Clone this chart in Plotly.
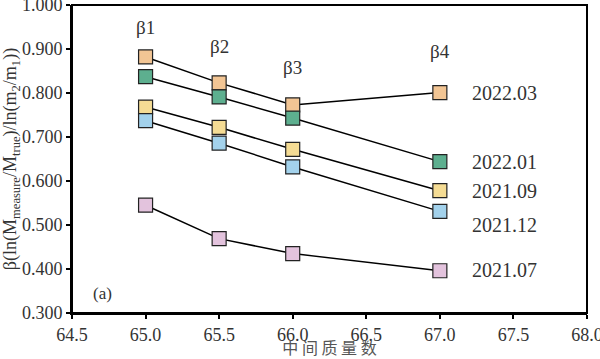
import plotly.graph_objects as go

mass = [65.0, 65.5, 66.0, 67.0]
series_names = ["2022.03", "2022.01", "2021.09", "2021.12", "2021.07"]
v_2022_03 = [0.882, 0.823, 0.773, 0.801]
v_2022_01 = [0.837, 0.791, 0.743, 0.644]
v_2021_09 = [0.768, 0.722, 0.672, 0.578]
v_2021_12 = [0.737, 0.686, 0.632, 0.531]
v_2021_07 = [0.545, 0.469, 0.435, 0.396]
colors = ["#F2C594", "#5DAF8F", "#F5DC94", "#A3D2EC", "#E3C3DD"]
label_y = [0.801, 0.643, 0.577, 0.500, 0.397]
beta_labels = ["β1", "β2", "β3", "β4"]
beta_y = [0.950, 0.905, 0.857, 0.894]
xticks = [64.5, 65.0, 65.5, 66.0, 66.5, 67.0, 67.5, 68.0]
yticks = [0.3, 0.4, 0.5, 0.6, 0.7, 0.8, 0.9, 1.0]

serif = "Times New Roman, Liberation Serif, serif"
fig = go.Figure()
for name, vals, c in zip(series_names, [v_2022_03, v_2022_01, v_2021_09, v_2021_12, v_2021_07], colors):
    fig.add_trace(go.Scatter(x=mass, y=vals, mode="lines+markers", name=name,
                             line=dict(color="black", width=1.5),
                             marker=dict(symbol="square", size=14, color=c,
                                         line=dict(color="#222", width=1.2))))
for name, y in zip(series_names, label_y):
    fig.add_annotation(x=67.44, y=y, text=name, showarrow=False,
                       font=dict(family=serif, size=20, color="#333"))
for b, x, y in zip(beta_labels, mass, beta_y):
    fig.add_annotation(x=x, y=y, text=b, showarrow=False,
                       font=dict(family=serif, size=19, color="#333"))
fig.add_annotation(x=64.71, y=0.345, text="(a)", showarrow=False,
                   font=dict(family=serif, size=17, color="#333"))
# plot frame
fig.add_shape(type="rect", xref="paper", yref="paper", x0=0, y0=0, x1=1, y1=1,
              line=dict(color="black", width=2), layer="above")

fig.update_layout(
    width=600, height=359, showlegend=False,
    margin=dict(l=72, r=13, t=5, b=46),
    plot_bgcolor="white", paper_bgcolor="white",
    font=dict(family=serif, size=16, color="#333"),
)
fig.update_xaxes(range=[64.5, 68.0], tickvals=xticks, ticktext=[f"{v:.1f}" for v in xticks],
                 automargin=False, ticklabeloverflow="allow",
                 showgrid=False, zeroline=False, showline=True, linecolor="black", linewidth=2,
                 ticks="outside", ticklen=4, tickwidth=1.5, tickcolor="black",
                 tickfont=dict(family=serif, size=18),
                 title=dict(text="中 间 质 量 数", standoff=3,
                            font=dict(family="Noto Sans CJK SC", size=16, color="#555")))
fig.update_yaxes(range=[0.3, 1.0], tickvals=yticks, ticktext=[f"{v:.3f}" for v in yticks],
                 automargin=False, ticklabeloverflow="allow",
                 showgrid=False, zeroline=False, showline=True, linecolor="black", linewidth=2,
                 ticks="outside", ticklen=4, tickwidth=1.5, tickcolor="black",
                 tickfont=dict(family=serif, size=18),
                 title=dict(text="β(ln(M<sub>measure</sub>/M<sub>true</sub>)/ln(m<sub>2</sub>/m<sub>1</sub>))",
                            standoff=0, font=dict(family=serif, size=18)))
fig.write_html("out.html", config={"displayModeBar": False},
               post_script="document.body.style.margin='0';document.body.style.padding='0';")
